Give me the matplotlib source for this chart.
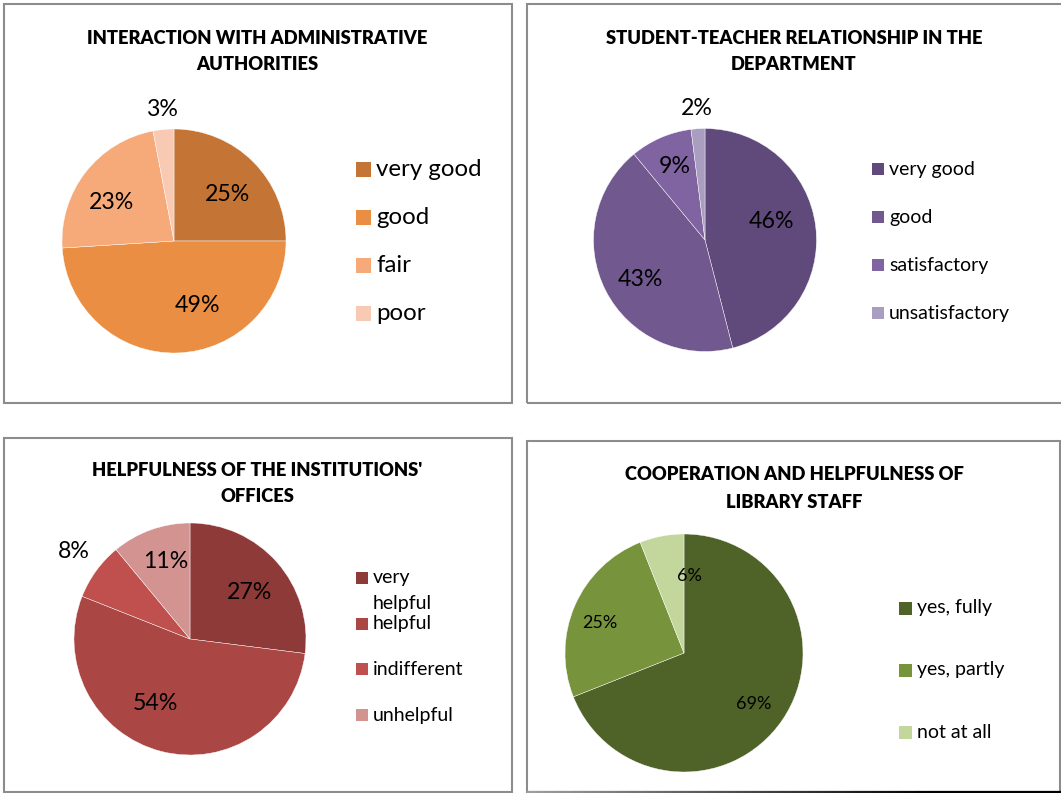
import numpy as np
import matplotlib
matplotlib.use('Agg')
import matplotlib.pyplot as plt
from matplotlib.patches import Rectangle
from matplotlib.collections import LineCollection

plt.rcParams['font.family'] = ['Lato', 'DejaVu Sans']

# data
adm_title = ['INTERACTION WITH ADMINISTRATIVE', 'AUTHORITIES']
adm_labels = ['very good', 'good', 'fair', 'poor']
adm_values = [25, 49, 23, 3]

rel_title = ['STUDENT-TEACHER RELATIONSHIP IN THE', 'DEPARTMENT']
rel_labels = ['very good', 'good', 'satisfactory', 'unsatisfactory']
rel_values = [46, 43, 9, 2]

off_title = ["HELPFULNESS OF THE INSTITUTIONS'", 'OFFICES']
off_labels = ['very\nhelpful', 'helpful', 'indifferent', 'unhelpful']
off_values = [27, 54, 8, 11]

lib_title = ['COOPERATION AND HELPFULNESS OF', 'LIBRARY STAFF']
lib_labels = ['yes, fully', 'yes, partly', 'not at all']
lib_values = [69, 25, 6]

adm_colors = ['#C47535', '#E98E42', '#F6AA7A', '#F9CAB3']
rel_colors = ['#604A7B', '#71588F', '#8064A2', '#A99DC0']
off_colors = ['#8E3A38', '#AA4644', '#C0504D', '#D39391']
lib_colors = ['#4F6228', '#77933C', '#C3D69B']

W, H = 1061, 793
fig = plt.figure(figsize=(W / 100, H / 100), dpi=100)


def fx(x):
    return x / W


def fy(y):
    return 1 - y / H


def frame(x0, y0, x1, y1):
    fig.add_artist(Rectangle((fx(x0), fy(y1)), (x1 - x0) / W, (y1 - y0) / H,
                             transform=fig.transFigure, fill=False,
                             edgecolor='#8C8C8C', linewidth=1.5))


def chart(values, labels, colors, title, tx, ty, cx, cy, r,
          dists, shifts, pct_size, lx, ly, pitch, msize, lsize):
    # title, one text per line
    for i, line in enumerate(title):
        fig.text(fx(tx), fy(ty[i]), line, ha='center', va='center',
                 fontsize=13.2, fontweight='heavy', color='black')

    ax = fig.add_axes([fx(cx - r), fy(cy + r), 2 * r / W, 2 * r / H])
    wedges, _ = ax.pie(values, colors=colors, startangle=90, counterclock=False,
                       radius=1, wedgeprops=dict(edgecolor='white', linewidth=0.3))
    ax.set_aspect('auto')
    ax.set_xlim(-1, 1)
    ax.set_ylim(-1, 1)
    ax.axis('off')

    for w, v, d, s in zip(wedges, values, dists, shifts):
        a = np.deg2rad((w.theta1 + w.theta2) / 2 + s)
        ax.text(d * np.cos(a), d * np.sin(a), f'{v}%', ha='center', va='center',
                fontsize=pct_size, color='black')

    # legend
    for i, (lab, c) in enumerate(zip(labels, colors)):
        y = ly + i * pitch
        fig.add_artist(Rectangle((fx(lx), fy(y + msize / 2)), msize / W, msize / H,
                                 transform=fig.transFigure, facecolor=c,
                                 edgecolor='none'))
        for j, part in enumerate(lab.split('\n')):
            fig.text(fx(lx + msize + 5), fy(y + j * 25), part, ha='left',
                     va='center', fontsize=lsize, color='black')


frame(4, 4, 512, 403)
frame(527, 4, 1064, 403)
frame(4, 438, 512, 792)
frame(527, 441, 1060, 792)

# darker bottom edge of the last panel
xs = np.linspace(527, 1061, 60)
segs = [[(fx(xs[k]), fy(792)), (fx(xs[k + 1]), fy(792))] for k in range(len(xs) - 1)]
g = np.clip(np.linspace(0.62, -0.2, len(segs)), 0, 1)
fig.add_artist(LineCollection(segs, colors=[(v, v, v) for v in g], linewidths=1.6,
                              transform=fig.transFigure))

chart(adm_values, adm_labels, adm_colors, adm_title, 257, [39, 65],
      174, 241, 112, [0.63, 0.61, 0.66, 1.18], [-4, 18, 6, 0], 16.7,
      356, 169, 48.3, 15, 17.3)

chart(rel_values, rel_labels, rel_colors, rel_title, 794, [38, 65],
      705, 240, 111.5, [0.62, 0.68, 0.71, 1.18], [8, 4, -1, 0], 16.7,
      872, 169, 48, 12, 14)

chart(off_values, off_labels, off_colors, off_title, 257, [471, 497],
      190, 639, 116, [0.65, 0.63, 1.25, 0.70], [-3, -14, -1, -2.5], 16.7,
      356, 578, 45.7, 12, 14)

chart(lib_values, lib_labels, lib_colors, lib_title, 794, [475, 502],
      684, 653, 119, [0.73, 0.75, 0.65], [-2, 4, -14.5], 13,
      899, 608, 62, 13, 14)

fig.savefig('out.png', dpi=100)
